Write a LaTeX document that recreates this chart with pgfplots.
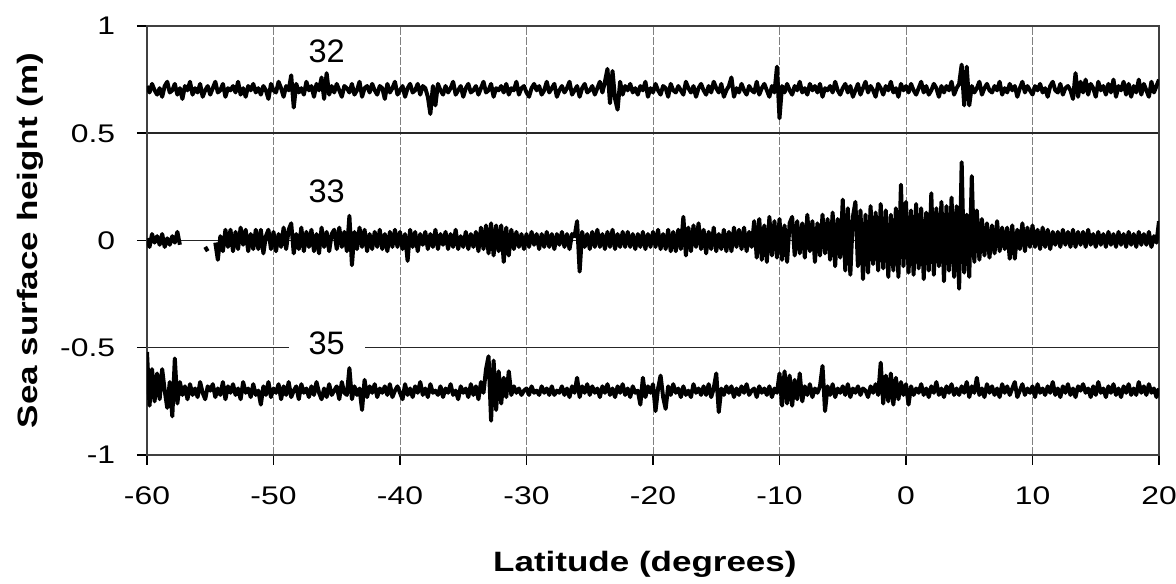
\documentclass[border=0pt]{standalone}
\usepackage{fontspec}
\setmainfont{Liberation Sans}[FakeStretch=1.25]
\newfontfamily\lblfont{Liberation Sans}
\usepackage{pgfplots}
\usepackage{pgfplotstable}
\pgfplotsset{compat=1.18}

% latitude, passes 32 / 33 / 35 (sea surface height, m)
\pgfplotstableread[row sep=\\]{
x a b c \\
-60 0.72 0.01 -0.52 \\ -59.8 0.69 -0.03 -0.77 \\ -59.6 0.73 0.03 -0.60 \\ -59.4 0.70 -0.01 -0.75 \\ -59.2 0.68 0.02 -0.62 \\
-59 0.71 -0.02 -0.74 \\ -58.8 0.67 0.03 -0.60 \\ -58.6 0.72 -0.03 -0.70 \\ -58.4 0.74 0.01 -0.78 \\ -58.2 0.69 -0.02 -0.66 \\
-58 0.70 0.02 -0.82 \\ -57.8 0.73 -0.01 -0.55 \\ -57.6 0.68 0.04 -0.76 \\ -57.4 0.71 -0.02 -0.66 \\ -57.2 0.66 nan -0.72 \\
-57 0.72 nan -0.68 \\ -56.8 0.70 nan -0.74 \\ -56.6 0.74 nan -0.67 \\ -56.4 0.68 nan -0.72 \\ -56.2 0.71 nan -0.69 \\
-56 0.69 nan -0.73 \\ -55.8 0.73 nan -0.66 \\ -55.6 0.67 nan -0.71 \\ -55.4 0.70 -0.03 -0.74 \\ -55.2 0.72 -0.05 -0.68 \\
-55 0.68 nan -0.70 \\ -54.8 0.71 nan -0.67 \\ -54.6 0.74 -0.01 -0.73 \\ -54.4 0.69 -0.09 -0.69 \\ -54.2 0.70 0.02 -0.72 \\
-54 0.73 -0.05 -0.66 \\ -53.8 0.67 0.05 -0.74 \\ -53.6 0.71 -0.03 -0.68 \\ -53.4 0.70 0.05 -0.71 \\ -53.2 0.72 -0.05 -0.67 \\
-53 0.69 0.04 -0.72 \\ -52.8 0.74 -0.04 -0.69 \\ -52.6 0.68 0.06 -0.74 \\ -52.4 0.71 -0.02 -0.66 \\ -52.2 0.67 0.05 -0.71 \\
-52 0.72 -0.05 -0.69 \\ -51.8 0.70 0.03 -0.73 \\ -51.6 0.73 -0.04 -0.67 \\ -51.4 0.69 0.05 -0.72 \\ -51.2 0.71 -0.04 -0.70 \\
-51 0.68 0.05 -0.765 \\ -50.8 0.72 -0.06 -0.68 \\ -50.6 0.70 0.02 -0.72 \\ -50.4 0.66 0.05 -0.66 \\ -50.2 0.73 -0.04 -0.73 \\
-50 0.70 0.04 -0.69 \\ -49.8 0.69 -0.05 -0.71 \\ -49.6 0.74 0.03 -0.67 \\ -49.4 0.71 -0.03 -0.74 \\ -49.2 0.67 0.06 -0.68 \\
-49 0.72 -0.04 -0.72 \\ -48.8 0.70 0.05 -0.66 \\ -48.6 0.77 0.08 -0.73 \\ -48.4 0.62 -0.06 -0.70 \\ -48.2 0.73 0.03 -0.68 \\
-48 0.69 -0.04 -0.74 \\ -47.8 0.71 0.06 -0.67 \\ -47.6 0.68 -0.05 -0.71 \\ -47.4 0.74 0.04 -0.69 \\ -47.2 0.70 -0.03 -0.73 \\
-47 0.72 0.05 -0.68 \\ -46.8 0.67 -0.05 -0.72 \\ -46.6 0.73 0.03 -0.66 \\ -46.4 0.70 -0.06 -0.71 \\ -46.2 0.76 0.06 -0.74 \\
-46 0.66 -0.03 -0.69 \\ -45.8 0.78 0.04 -0.73 \\ -45.6 0.68 -0.05 -0.67 \\ -45.4 0.72 0.03 -0.72 \\ -45.2 0.69 0.05 -0.70 \\
-45 0.73 -0.04 -0.68 \\ -44.8 0.70 0.06 -0.74 \\ -44.6 0.67 -0.03 -0.66 \\ -44.4 0.72 0.04 -0.71 \\ -44.2 0.71 -0.05 -0.72 \\
-44 0.69 0.115 -0.595 \\ -43.8 0.73 -0.115 -0.74 \\ -43.6 0.68 0.04 -0.68 \\ -43.4 0.70 -0.04 -0.72 \\ -43.2 0.74 0.06 -0.69 \\
-43 0.67 -0.03 -0.79 \\ -42.8 0.71 0.05 -0.65 \\ -42.6 0.72 -0.05 -0.73 \\ -42.4 0.69 0.03 -0.68 \\ -42.2 0.73 -0.04 -0.71 \\
-42 0.70 0.04 -0.67 \\ -41.8 0.68 -0.03 -0.73 \\ -41.6 0.72 0.05 -0.69 \\ -41.4 0.71 -0.04 -0.71 \\ -41.2 0.66 0.03 -0.68 \\
-41 0.73 -0.05 -0.72 \\ -40.8 0.69 0.04 -0.67 \\ -40.6 0.71 -0.03 -0.73 \\ -40.4 0.74 0.05 -0.70 \\ -40.2 0.68 -0.03 -0.68 \\
-40 0.70 0.04 -0.71 \\ -39.8 0.72 -0.04 -0.74 \\ -39.6 0.67 0.03 -0.67 \\ -39.4 0.71 -0.095 -0.72 \\ -39.2 0.73 0.05 -0.69 \\
-39 0.69 -0.03 -0.73 \\ -38.8 0.70 0.04 -0.68 \\ -38.6 0.73 -0.05 -0.71 \\ -38.4 0.68 0.03 -0.66 \\ -38.2 0.72 -0.02 -0.72 \\
-38 0.71 0.04 -0.69 \\ -37.8 0.67 -0.04 -0.73 \\ -37.6 0.59 0.03 -0.67 \\ -37.4 0.72 -0.03 -0.71 \\ -37.2 0.63 0.05 -0.70 \\
-37 0.73 -0.04 -0.72 \\ -36.8 0.70 0.03 -0.68 \\ -36.6 0.68 -0.02 -0.73 \\ -36.4 0.72 0.04 -0.69 \\ -36.2 0.69 -0.04 -0.71 \\
-36 0.71 0.03 -0.67 \\ -35.8 0.74 -0.03 -0.72 \\ -35.6 0.68 0.05 -0.70 \\ -35.4 0.70 -0.04 -0.74 \\ -35.2 0.72 0.02 -0.68 \\
-35 0.67 -0.03 -0.71 \\ -34.8 0.71 0.04 -0.69 \\ -34.6 0.73 -0.04 -0.73 \\ -34.4 0.69 0.03 -0.67 \\ -34.2 0.70 -0.03 -0.72 \\
-34 0.72 0.04 -0.68 \\ -33.8 0.68 -0.05 -0.74 \\ -33.6 0.71 0.06 -0.66 \\ -33.4 0.74 -0.04 -0.71 \\ -33.2 0.69 0.07 -0.60 \\
-33 0.70 -0.06 -0.54 \\ -32.8 0.73 0.08 -0.84 \\ -32.6 0.67 -0.07 -0.56 \\ -32.4 0.71 0.07 -0.79 \\ -32.2 0.70 -0.05 -0.61 \\
-32 0.72 0.07 -0.76 \\ -31.8 0.69 -0.10 -0.64 \\ -31.6 0.73 0.06 -0.73 \\ -31.4 0.68 -0.07 -0.61 \\ -31.2 0.71 0.05 -0.72 \\
-31 0.70 -0.04 -0.68 \\ -30.8 0.74 0.04 -0.71 \\ -30.6 0.68 -0.03 -0.69 \\ -30.4 0.71 0.03 -0.72 \\ -30.2 0.72 -0.04 -0.70 \\
-30 0.69 0.03 -0.69 \\ -29.8 0.67 -0.03 -0.72 \\ -29.6 0.71 0.04 -0.68 \\ -29.4 0.73 -0.02 -0.71 \\ -29.2 0.70 0.03 -0.70 \\
-29 0.72 -0.04 -0.72 \\ -28.8 0.68 0.03 -0.68 \\ -28.6 0.70 -0.03 -0.71 \\ -28.4 0.74 0.04 -0.69 \\ -28.2 0.69 -0.03 -0.72 \\
-28 0.71 0.03 -0.68 \\ -27.8 0.73 -0.04 -0.72 \\ -27.6 0.67 0.03 -0.70 \\ -27.4 0.70 -0.02 -0.71 \\ -27.2 0.72 0.04 -0.68 \\
-27 0.69 -0.03 -0.72 \\ -26.8 0.71 0.03 -0.69 \\ -26.6 0.74 -0.04 -0.73 \\ -26.4 0.68 0.03 -0.68 \\ -26.2 0.70 0.02 -0.71 \\
-26 0.72 0.09 -0.64 \\ -25.8 0.67 -0.145 -0.73 \\ -25.6 0.71 0.04 -0.68 \\ -25.4 0.73 -0.03 -0.71 \\ -25.2 0.69 0.03 -0.67 \\
-25 0.70 -0.04 -0.72 \\ -24.8 0.72 0.04 -0.68 \\ -24.6 0.68 -0.03 -0.71 \\ -24.4 0.71 0.05 -0.69 \\ -24.2 0.74 -0.03 -0.73 \\
-24 0.69 0.03 -0.68 \\ -23.8 0.74 -0.04 -0.71 \\ -23.6 0.80 0.04 -0.67 \\ -23.4 0.64 -0.03 -0.72 \\ -23.2 0.79 0.05 -0.69 \\
-23 0.66 -0.04 -0.73 \\ -22.8 0.61 0.03 -0.68 \\ -22.6 0.74 -0.03 -0.71 \\ -22.4 0.68 0.04 -0.67 \\ -22.2 0.72 -0.03 -0.72 \\
-22 0.70 0.04 -0.69 \\ -21.8 0.73 -0.03 -0.73 \\ -21.6 0.69 0.03 -0.68 \\ -21.4 0.71 -0.04 -0.71 \\ -21.2 0.68 0.03 -0.70 \\
-21 0.72 -0.03 -0.765 \\ -20.8 0.70 0.04 -0.64 \\ -20.6 0.74 -0.04 -0.73 \\ -20.4 0.67 0.03 -0.68 \\ -20.2 0.71 -0.03 -0.71 \\
-20 0.69 0.04 -0.67 \\ -19.8 0.73 -0.03 -0.795 \\ -19.6 0.70 0.05 -0.69 \\ -19.4 0.68 -0.04 -0.63 \\ -19.2 0.72 0.03 -0.73 \\
-19 0.71 -0.04 -0.785 \\ -18.8 0.67 0.05 -0.68 \\ -18.6 0.73 -0.05 -0.72 \\ -18.4 0.70 0.04 -0.67 \\ -18.2 0.69 -0.05 -0.71 \\
-18 0.72 0.05 -0.69 \\ -17.8 0.70 -0.04 -0.73 \\ -17.6 0.68 0.11 -0.68 \\ -17.4 0.74 -0.07 -0.72 \\ -17.2 0.71 0.06 -0.70 \\
-17 0.69 -0.05 -0.73 \\ -16.8 0.72 0.07 -0.67 \\ -16.6 0.67 -0.03 -0.71 \\ -16.4 0.71 0.08 -0.69 \\ -16.2 0.73 -0.04 -0.72 \\
-16 0.70 0.05 -0.68 \\ -15.8 0.68 -0.06 -0.72 \\ -15.6 0.72 0.04 -0.67 \\ -15.4 0.69 -0.04 -0.73 \\ -15.2 0.74 0.06 -0.69 \\
-15 0.71 -0.05 -0.62 \\ -14.8 0.69 0.03 -0.80 \\ -14.6 0.73 -0.04 -0.69 \\ -14.4 0.67 0.05 -0.72 \\ -14.2 0.70 -0.05 -0.68 \\
-14 0.72 0.04 -0.71 \\ -13.8 0.76 -0.05 -0.68 \\ -13.6 0.67 0.06 -0.73 \\ -13.4 0.71 -0.03 -0.69 \\ -13.2 0.69 0.05 -0.72 \\
-13 0.73 -0.04 -0.68 \\ -12.8 0.70 0.06 -0.71 \\ -12.6 0.68 -0.05 -0.67 \\ -12.4 0.72 0.04 -0.72 \\ -12.2 0.70 -0.03 -0.70 \\
-12 0.69 0.09 -0.69 \\ -11.8 0.74 -0.08 -0.73 \\ -11.6 0.68 0.10 -0.68 \\ -11.4 0.71 -0.09 -0.71 \\ -11.2 0.73 0.07 -0.69 \\
-11 0.70 -0.10 -0.72 \\ -10.8 0.67 0.11 -0.68 \\ -10.6 0.72 -0.07 -0.73 \\ -10.4 0.69 0.09 -0.69 \\ -10.2 0.81 -0.08 -0.71 \\
-10 0.57 0.10 -0.62 \\ -9.8 0.72 -0.09 -0.77 \\ -9.6 0.69 0.07 -0.61 \\ -9.4 0.73 -0.10 -0.76 \\ -9.2 0.70 0.08 -0.63 \\
-9 0.68 0.11 -0.77 \\ -8.8 0.72 -0.07 -0.65 \\ -8.6 0.70 0.09 -0.74 \\ -8.4 0.74 -0.06 -0.62 \\ -8.2 0.69 0.08 -0.75 \\
-8 0.71 -0.08 -0.68 \\ -7.8 0.68 0.12 -0.72 \\ -7.6 0.73 -0.05 -0.67 \\ -7.4 0.70 0.09 -0.73 \\ -7.2 0.72 -0.10 -0.69 \\
-7 0.69 0.08 -0.71 \\ -6.8 0.73 -0.07 -0.68 \\ -6.6 0.67 0.12 -0.585 \\ -6.4 0.71 -0.06 -0.795 \\ -6.2 0.70 0.10 -0.68 \\
-6 0.72 -0.09 -0.72 \\ -5.8 0.69 0.13 -0.67 \\ -5.6 0.74 -0.12 -0.73 \\ -5.4 0.70 0.10 -0.69 \\ -5.2 0.68 -0.08 -0.71 \\
-5 0.71 0.19 -0.68 \\ -4.8 0.73 -0.14 -0.72 \\ -4.6 0.69 0.15 -0.67 \\ -4.4 0.72 -0.16 -0.73 \\ -4.2 0.67 0.11 -0.69 \\
-4 0.70 0.18 -0.71 \\ -3.8 0.73 -0.12 -0.68 \\ -3.6 0.68 0.14 -0.72 \\ -3.4 0.71 -0.18 -0.69 \\ -3.2 0.74 0.12 -0.70 \\
-3 0.69 -0.15 -0.73 \\ -2.8 0.72 0.16 -0.68 \\ -2.6 0.70 -0.11 -0.71 \\ -2.4 0.67 0.13 -0.67 \\ -2.2 0.73 -0.14 -0.72 \\
-2 0.71 0.17 -0.57 \\ -1.8 0.68 -0.13 -0.76 \\ -1.6 0.72 0.14 -0.63 \\ -1.4 0.70 -0.17 -0.75 \\ -1.2 0.74 0.12 -0.62 \\
-1 0.69 -0.14 -0.765 \\ -0.8 0.71 0.15 -0.64 \\ -0.6 0.67 -0.17 -0.74 \\ -0.4 0.73 0.26 -0.66 \\ -0.2 0.70 -0.12 -0.72 \\
0 0.72 0.18 -0.67 \\ 0.2 0.69 -0.15 -0.765 \\ 0.4 0.73 0.14 -0.68 \\ 0.6 0.70 -0.16 -0.72 \\ 0.8 0.68 0.17 -0.69 \\
1 0.71 -0.13 -0.71 \\ 1.2 0.74 0.15 -0.67 \\ 1.4 0.69 -0.18 -0.72 \\ 1.6 0.72 0.13 -0.69 \\ 1.8 0.68 -0.14 -0.73 \\
2 0.70 0.22 -0.68 \\ 2.2 0.73 -0.16 -0.71 \\ 2.4 0.71 0.15 -0.66 \\ 2.6 0.67 -0.12 -0.72 \\ 2.8 0.72 0.18 -0.69 \\
3 0.69 -0.19 -0.73 \\ 3.2 0.72 0.16 -0.68 \\ 3.4 0.70 -0.14 -0.71 \\ 3.6 0.74 0.20 -0.67 \\ 3.8 0.68 -0.17 -0.72 \\
4 0.71 0.16 -0.69 \\ 4.2 0.73 -0.225 -0.72 \\ 4.4 0.82 0.365 -0.68 \\ 4.6 0.63 -0.15 -0.71 \\ 4.8 0.81 0.12 -0.66 \\
5 0.63 -0.17 -0.73 \\ 5.2 0.72 0.30 -0.68 \\ 5.4 0.69 -0.10 -0.71 \\ 5.6 0.71 0.14 -0.64 \\ 5.8 0.74 -0.09 -0.72 \\
6 0.68 0.10 -0.69 \\ 6.2 0.71 -0.07 -0.73 \\ 6.4 0.73 0.08 -0.67 \\ 6.6 0.70 -0.08 -0.71 \\ 6.8 0.69 0.07 -0.68 \\
7 0.72 -0.06 -0.72 \\ 7.2 0.70 0.09 -0.69 \\ 7.4 0.74 -0.05 -0.73 \\ 7.6 0.68 0.06 -0.67 \\ 7.8 0.71 -0.04 -0.71 \\
8 0.69 0.06 -0.68 \\ 8.2 0.73 -0.085 -0.72 \\ 8.4 0.70 0.07 -0.69 \\ 8.6 0.72 -0.085 -0.66 \\ 8.8 0.67 0.05 -0.73 \\
9 0.71 -0.04 -0.70 \\ 9.2 0.74 0.08 -0.67 \\ 9.4 0.69 -0.05 -0.72 \\ 9.6 0.72 0.06 -0.69 \\ 9.8 0.70 -0.03 -0.71 \\
10 0.68 0.07 -0.68 \\ 10.2 0.72 -0.03 -0.73 \\ 10.4 0.70 0.05 -0.67 \\ 10.6 0.73 -0.04 -0.71 \\ 10.8 0.69 0.06 -0.69 \\
11 0.71 -0.03 -0.72 \\ 11.2 0.67 0.05 -0.68 \\ 11.4 0.72 -0.04 -0.71 \\ 11.6 0.74 0.04 -0.66 \\ 11.8 0.70 -0.02 -0.72 \\
12 0.69 0.04 -0.69 \\ 12.2 0.73 -0.03 -0.73 \\ 12.4 0.68 0.05 -0.68 \\ 12.6 0.71 -0.02 -0.71 \\ 12.8 0.72 0.04 -0.67 \\
13 0.70 -0.03 -0.72 \\ 13.2 0.66 0.05 -0.69 \\ 13.4 0.78 -0.03 -0.73 \\ 13.6 0.67 0.04 -0.68 \\ 13.8 0.74 -0.02 -0.70 \\
14 0.69 0.04 -0.67 \\ 14.2 0.75 -0.03 -0.71 \\ 14.4 0.68 0.05 -0.69 \\ 14.6 0.73 -0.02 -0.73 \\ 14.8 0.71 0.03 -0.68 \\
15 0.67 -0.03 -0.72 \\ 15.2 0.74 0.04 -0.66 \\ 15.4 0.70 -0.02 -0.71 \\ 15.6 0.72 0.03 -0.69 \\ 15.8 0.68 -0.03 -0.73 \\
16 0.73 0.04 -0.68 \\ 16.2 0.69 -0.02 -0.71 \\ 16.4 0.75 0.03 -0.67 \\ 16.6 0.67 -0.03 -0.72 \\ 16.8 0.72 0.04 -0.69 \\
17 0.70 -0.02 -0.73 \\ 17.2 0.74 0.03 -0.68 \\ 17.4 0.68 -0.03 -0.71 \\ 17.6 0.73 0.04 -0.67 \\ 17.8 0.67 -0.02 -0.72 \\
18 0.72 0.03 -0.69 \\ 18.2 0.69 -0.03 -0.72 \\ 18.4 0.75 0.04 -0.66 \\ 18.6 0.68 -0.02 -0.71 \\ 18.8 0.73 0.03 -0.68 \\
19 0.70 -0.02 -0.72 \\ 19.2 0.67 0.04 -0.67 \\ 19.4 0.74 -0.03 -0.71 \\ 19.6 0.69 0.02 -0.69 \\ 19.8 0.72 -0.01 -0.73 \\
20 0.75 0.09 -0.69 \\
}\ssh

\begin{document}
\begin{tikzpicture}
\begin{axis}[
  scale only axis, width=404.8pt, height=171.6pt,
  xmin=-60, xmax=20, ymin=-1, ymax=1,
  xtick={-60,-50,...,20}, ytick={-1,-0.5,0,0.5,1},
  xmajorgrids, ymajorgrids,
  x grid style={gray, line width=0.4pt, dash pattern=on 3pt off 1pt},
  y grid style={black!85, line width=0.6pt},
  axis line style={black!75, line width=1pt},
  tick align=outside, major tick length=4pt,
  xtick pos=bottom, ytick pos=left,
  tick style={black, line width=0.6pt},
  /pgf/number format/assume math mode=true,
  tick label style={font=\fontsize{10.2}{12}\selectfont},
  xticklabel style={yshift=-5pt},
  yticklabel style={xshift=-5.2pt},
  xlabel={Latitude (degrees)}, ylabel={Sea surface height (m)},
  label style={font=\bfseries\fontsize{11.2}{13}\selectfont},
  xlabel style={at={(axis description cs:0.492,-0.256)}, anchor=center},
  ylabel style={at={(axis description cs:-0.1156,0.5)}, anchor=center},
  unbounded coords=jump,
]
\coordinate (SW) at (rel axis cs:0,0);
\coordinate (NE) at (rel axis cs:1,1);
\addplot[black, line width=1.6pt, line join=round] table[x=x, y=a] {\ssh};
\addplot[black, line width=1.6pt, line join=round] table[x=x, y=b] {\ssh};
\addplot[black, line width=1.6pt, line join=round] table[x=x, y=c] {\ssh};
\node[font=\lblfont\fontsize{13}{15}\selectfont] at (axis cs:-45.8,0.88) {32};
\node[font=\lblfont\fontsize{13}{15}\selectfont] at (axis cs:-45.8,0.23) {33};
\node[font=\lblfont\fontsize{13}{15}\selectfont, fill=white, inner xsep=8pt, inner ysep=1pt] at (axis cs:-45.8,-0.48) {35};
\end{axis}
\pgfresetboundingbox
\path ([shift={(-58.8pt,-51.6pt)}]SW) rectangle ([shift={(6.8pt,10.4pt)}]NE);
\end{tikzpicture}
\end{document}
